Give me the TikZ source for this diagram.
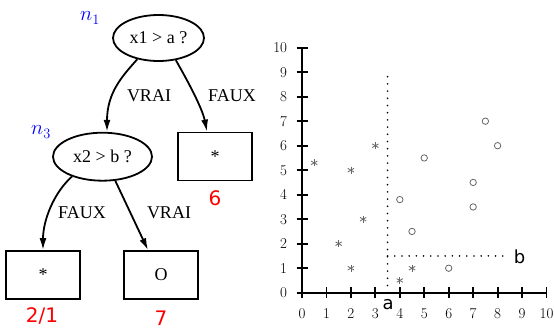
\documentclass[tikz,border=0pt]{standalone}
\usepackage{fontspec}
\setmainfont{Liberation Serif}
\newfontfamily\lmfont{Latin Modern Roman}
\newfontfamily\djfont{DejaVu Sans}
\usetikzlibrary{shapes.geometric,arrows.meta}
\tikzset{
  decision/.style={ellipse, draw, line width=1.8pt, minimum width=91pt, minimum height=46pt, inner sep=0pt, font=\fontsize{18}{20}\selectfont},
  leaf/.style={rectangle, draw, line width=1.8pt, minimum width=74pt, minimum height=48pt, inner sep=0pt, font=\fontsize{18}{20}\selectfont},
  branch/.style={line width=1.8pt, -{Latex[length=12pt,width=7pt]}},
  elabel/.style={inner sep=0pt, font=\fontsize{18}{20}\selectfont},
  nname/.style={blue, inner sep=0pt, font=\fontsize{21}{23}\selectfont},
  count/.style={red, inner sep=0pt, anchor=base, font=\djfont\fontsize{20}{22}\selectfont},
  axisline/.style={line width=1.8pt},
  ticklab/.style={inner sep=0pt, font=\lmfont\fontsize{15}{17}\selectfont},
  cutline/.style={line width=1.8pt, dash pattern=on 0pt off 7.2pt, line cap=round},
  cutlab/.style={inner sep=0pt, font=\djfont\fontsize{18}{20}\selectfont},
  markc/.style={draw=black!60, line width=0.8pt}
}
\begin{document}
\begin{tikzpicture}[x=1pt,y=-1pt]
\useasboundingbox (0,0) rectangle (554,329);
% tree
\node[decision] (n1) at (158.5,38) {x1 > a ?};
\node[decision, minimum width=99pt, minimum height=48pt] (n3) at (102.5,156.7) {x2 > b ?};
\node[leaf] (l6) at (215,156.5) {*};
\node[leaf] (l21) at (43,275) {*};
\node[leaf] (l7) at (161,275) {O};
\node[nname] (n1lab) at (90,18) {$n_1$};
\node[nname] (n3lab) at (41,132) {$n_3$};
\node[count] (c6) at (215,205) {6};
\node[count] (c21) at (42,322) {2/1};
\node[count] (c7) at (161,325.5) {7};
\draw[branch] (n1.225) .. controls +(-14,16) and +(0,-40) .. ([xshift=4.5pt]n3.north);
\draw[branch] (n1.308) .. controls +(8,14) and +(-5,-25) .. ([xshift=-8pt]l6.north);
\draw[branch] (n3.213) .. controls +(-18,16) and +(0,-30) .. (l21.north);
\draw[branch] (n3.298) -- ([xshift=-13pt]l7.north);
\node[elabel] (v1) at (149,95.5) {VRAI};
\node[elabel] (f1) at (232,95.5) {FAUX};
\node[elabel] (f2) at (82,213) {FAUX};
\node[elabel] (v2) at (169,213) {VRAI};
% plot
\begin{scope}[shift={(302,292.7)}, x=24.45pt, y=24.5pt]
  \coordinate (O) at (0,0);
  \coordinate (X) at (10,0);
  \coordinate (Y) at (0,10);
  \draw[axisline] (X) -- (O) -- (Y);
  \foreach \i in {0,...,10} {
    \draw[axisline] (\i,0) ++(0,-5.5pt) -- ++(0,11pt);
    \draw[axisline] (0,\i) ++(-5.5pt,0) -- ++(11pt,0);
    \node[ticklab, anchor=base] (xl\i) at (\i,-1.07) {\i};
    \node[ticklab, anchor=east] (yl\i) at (-0.6,\i) {\i};
  }
  \coordinate (va) at (3.5,0);
  \coordinate (vb) at (3.5,8.91);
  \coordinate (ha) at (3.5,1.5);
  \coordinate (hb) at (8.45,1.5);
  \draw[cutline] (va) -- (vb);
  \draw[cutline] (ha) -- (hb);
  \node[cutlab] (alab) at (3.52,-0.5) {a};
  \node[cutlab] (blab) at (8.9,1.46) {b};
  \foreach \p in {(0.5,5.3),(2,5),(3,6),(2.5,3),(1.5,2),(2,1),(4.5,1),(4,0.5)} {
    \foreach \a in {90,30,150}
      \draw[markc] \p ++(\a:3.6pt) -- ++(\a+180:7.2pt);
  }
  \foreach \p in {(7.5,7),(8,6),(5,5.5),(7,4.5),(7,3.5),(4,3.8),(4.5,2.5),(6,1)} {
    \draw[markc] \p circle[radius=3.2pt];
  }
\end{scope}
\end{tikzpicture}
\end{document}
